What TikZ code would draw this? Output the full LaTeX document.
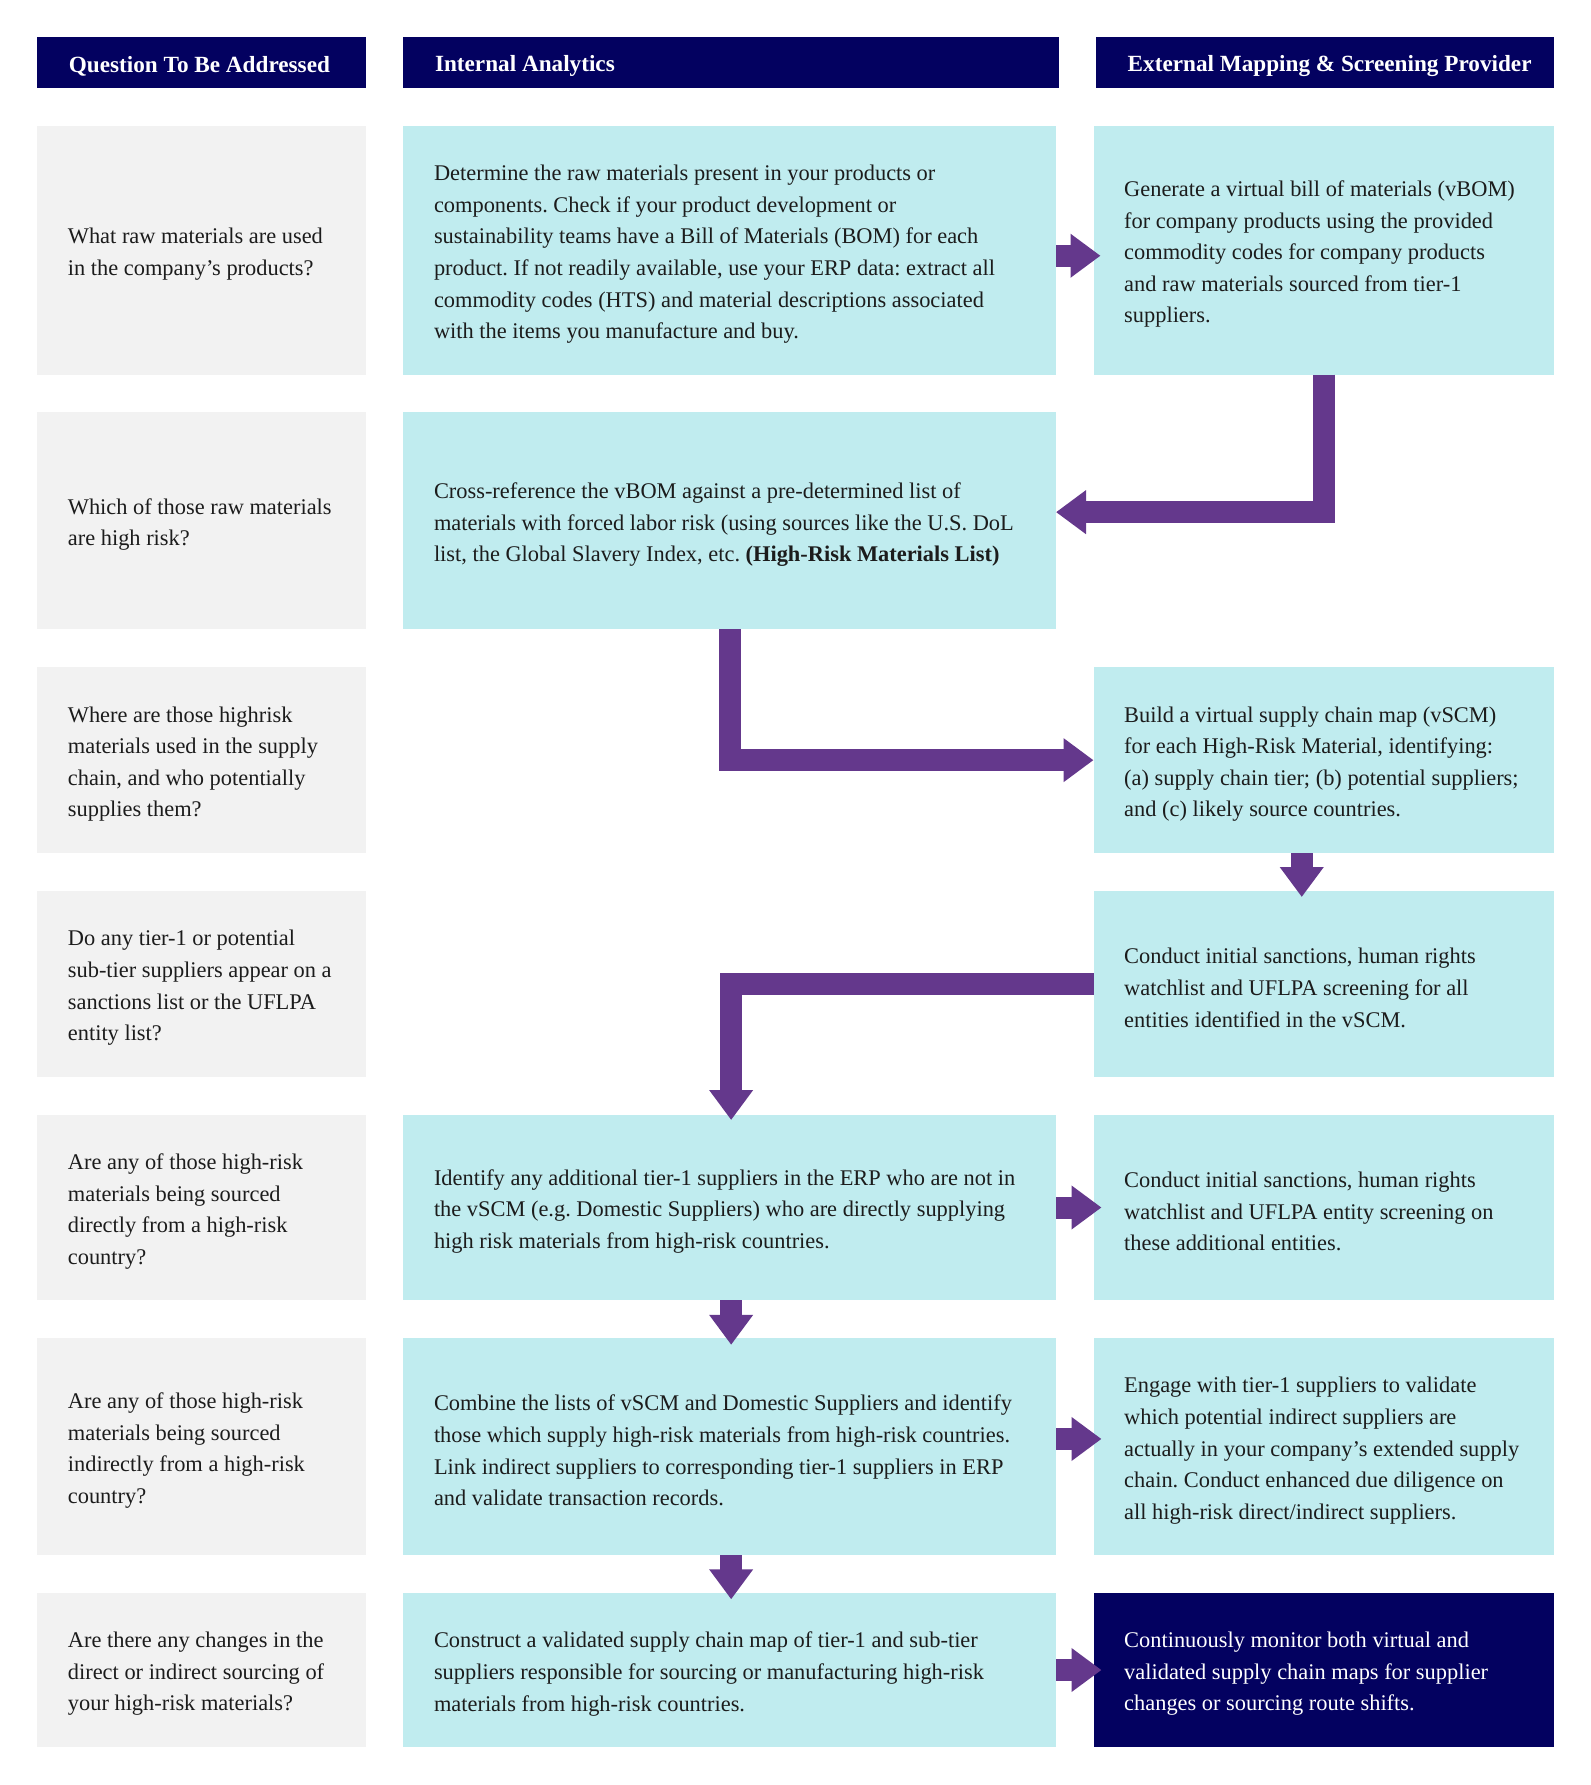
\documentclass[tikz,border=0pt]{standalone}
\usepackage{fontspec}
\setmainfont{Liberation Serif}
\usetikzlibrary{arrows.meta}
\definecolor{navy}{RGB}{3,1,96}
\definecolor{cyanbox}{RGB}{192,236,239}
\definecolor{greybox}{RGB}{242,242,242}
\definecolor{purp}{RGB}{100,56,140}
\definecolor{ink}{RGB}{28,28,28}
\begin{document}
\frenchspacing
\begin{tikzpicture}[x=1pt,y=-1pt,
  cell/.style={rectangle, inner sep=0pt, outer sep=0pt},
  col1/.style={cell, minimum width=328.8pt, fill=greybox},
  col2/.style={cell, minimum width=652.7pt, fill=cyanbox},
  col3/.style={cell, minimum width=460.5pt, fill=cyanbox},
  hdr/.style={cell, fill=navy, minimum height=50.9pt},
  txt/.style={anchor=west, align=left, inner sep=0pt, yshift=-4pt, text=ink, font=\fontsize{22.4}{31.6}\selectfont\frenchspacing},
  htxt/.style={anchor=west, align=left, inner sep=0pt, yshift=-3.5pt, text=white, font=\fontsize{23.2}{27}\selectfont\bfseries},
  fat/.style={draw=purp, line width=22pt, line join=miter, line cap=butt, -{Triangle[length=30pt,width=42pt]}}
]
\useasboundingbox (0,0) rectangle (1590,1785);
\fill[white] (0,0) rectangle (1590,1785);

% headers
\node[hdr, minimum width=328.8pt] (h1) at (201.6,62.85) {};
\node[hdr, minimum width=655.7pt] (h2) at (731.15,62.85) {};
\node[hdr, minimum width=458pt] (h3) at (1325,62.85) {};
\node[htxt] (h1t) at ([xshift=31.5pt]h1.west) {Question To Be Addressed};
\node[htxt] (h2t) at ([xshift=31.5pt]h2.west) {Internal Analytics};
\node[htxt] (h3t) at ([xshift=31.5pt]h3.west) {External Mapping \& Screening Provider};

% column 1
\node[col1, minimum height=248.5pt] (q1) at (201.6,250.25) {};
\node[col1, minimum height=216.7pt] (q2) at (201.6,520.65) {};
\node[col1, minimum height=185.7pt] (q3) at (201.6,760.15) {};
\node[col1, minimum height=185.7pt] (q4) at (201.6,983.85) {};
\node[col1, minimum height=185pt] (q5) at (201.6,1207.5) {};
\node[col1, minimum height=216.7pt] (q6) at (201.6,1446.65) {};
\node[col1, minimum height=153.4pt] (q7) at (201.6,1670) {};

% column 2
\node[col2, minimum height=248.5pt] (a1) at (729.65,250.25) {};
\node[col2, minimum height=216.7pt] (a2) at (729.65,520.65) {};
\node[col2, minimum height=185pt] (a5) at (729.65,1207.5) {};
\node[col2, minimum height=216.7pt] (a6) at (729.65,1446.65) {};
\node[col2, minimum height=153.4pt] (a7) at (729.65,1670) {};

% column 3
\node[col3, minimum height=248.5pt] (e1) at (1323.75,250.25) {};
\node[col3, minimum height=185.7pt] (e3) at (1323.75,760.15) {};
\node[col3, minimum height=185.7pt] (e4) at (1323.75,983.85) {};
\node[col3, minimum height=185pt] (e5) at (1323.75,1207.5) {};
\node[col3, minimum height=216.7pt] (e6) at (1323.75,1446.65) {};
\node[col3, minimum height=153.4pt, fill=navy] (e7) at (1323.75,1670) {};

% texts column 1
\node[txt] (q1t) at ([xshift=30.5pt]q1.west) {What raw materials are used\\in the company’s products?};
\node[txt] (q2t) at ([xshift=30.5pt]q2.west) {Which of those raw materials\\are high risk?};
\node[txt] (q3t) at ([xshift=30.5pt]q3.west) {Where are those highrisk\\materials used in the supply\\chain, and who potentially\\supplies them?};
\node[txt] (q4t) at ([xshift=30.5pt]q4.west) {Do any tier-1 or potential\\sub-tier suppliers appear on a\\sanctions list or the UFLPA\\entity list?};
\node[txt] (q5t) at ([xshift=30.5pt]q5.west) {Are any of those high-risk\\materials being sourced\\directly from a high-risk\\country?};
\node[txt] (q6t) at ([xshift=30.5pt]q6.west) {Are any of those high-risk\\materials being sourced\\indirectly from a high-risk\\country?};
\node[txt] (q7t) at ([xshift=30.5pt]q7.west) {Are there any changes in the\\direct or indirect sourcing of\\your high-risk materials?};

% texts column 2
\node[txt] (a1t) at ([xshift=30.5pt]a1.west) {Determine the raw materials present in your products or\\components. Check if your product development or\\sustainability teams have a Bill of Materials (BOM) for each\\product. If not readily available, use your ERP data: extract all\\commodity codes (HTS) and material descriptions associated\\with the items you manufacture and buy.};
\node[txt] (a2t) at ([xshift=30.5pt]a2.west) {Cross-reference the vBOM against a pre-determined list of\\materials with forced labor risk (using sources like the U.S. DoL\\list, the Global Slavery Index, etc. \textbf{(High-Risk Materials List)}};
\node[txt] (a5t) at ([xshift=30.5pt]a5.west) {Identify any additional tier-1 suppliers in the ERP who are not in\\the vSCM (e.g. Domestic Suppliers) who are directly supplying\\high risk materials from high-risk countries.};
\node[txt] (a6t) at ([xshift=30.5pt]a6.west) {Combine the lists of vSCM and Domestic Suppliers and identify\\those which supply high-risk materials from high-risk countries.\\Link indirect suppliers to corresponding tier-1 suppliers in ERP\\and validate transaction records.};
\node[txt] (a7t) at ([xshift=30.5pt]a7.west) {Construct a validated supply chain map of tier-1 and sub-tier\\suppliers responsible for sourcing or manufacturing high-risk\\materials from high-risk countries.};

% texts column 3
\node[txt] (e1t) at ([xshift=30.5pt]e1.west) {Generate a virtual bill of materials (vBOM)\\for company products using the provided\\commodity codes for company products\\and raw materials sourced from tier-1\\suppliers.};
\node[txt] (e3t) at ([xshift=30.5pt]e3.west) {Build a virtual supply chain map (vSCM)\\for each High-Risk Material, identifying:\\(a) supply chain tier; (b) potential suppliers;\\and (c) likely source countries.};
\node[txt] (e4t) at ([xshift=30.5pt]e4.west) {Conduct initial sanctions, human rights\\watchlist and UFLPA screening for all\\entities identified in the vSCM.};
\node[txt] (e5t) at ([xshift=30.5pt]e5.west) {Conduct initial sanctions, human rights\\watchlist and UFLPA entity screening on\\these additional entities.};
\node[txt] (e6t) at ([xshift=30.5pt]e6.west) {Engage with tier-1 suppliers to validate\\which potential indirect suppliers are\\actually in your company’s extended supply\\chain. Conduct enhanced due diligence on\\all high-risk direct/indirect suppliers.};
\node[txt, text=white] (e7t) at ([xshift=30.5pt]e7.west) {Continuously monitor both virtual and\\validated supply chain maps for supplier\\changes or sourcing route shifts.};

% connectors
\draw[fat] ([yshift=-5.5pt]a1.east) -- ([xshift=7pt,yshift=-5.5pt]e1.west);
\draw[fat] (e1.south) |- ([yshift=8.5pt]a2.east);
\draw[fat] (a2.south) |- (e3.west);
\draw[fat] ([xshift=-22pt]e3.south) -- ([xshift=-22pt,yshift=-6pt]e4.north);
\draw[fat] (e4.west) -| ([xshift=1.5pt,yshift=-5pt]a5.north);
\draw[fat] (a5.east) -- ([xshift=8pt]e5.west);
\draw[fat] ([xshift=1.5pt]a5.south) -- ([xshift=1.5pt,yshift=-6.5pt]a6.north);
\draw[fat] ([yshift=7.7pt]a6.east) -- ([xshift=8pt,yshift=7.7pt]e6.west);
\draw[fat] ([xshift=1.5pt]a6.south) -- ([xshift=1.5pt,yshift=-6pt]a7.north);
\draw[fat] (a7.east) -- ([xshift=8pt]e7.west);
\end{tikzpicture}
\end{document}
